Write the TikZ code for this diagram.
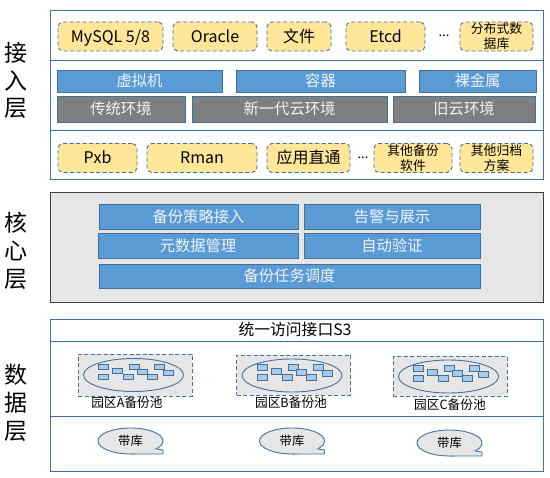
\documentclass[tikz,border=0pt]{standalone}
\usepackage{fontspec}
\setmainfont{Noto Sans CJK SC}
\usepackage[dvipsnames,svgnames,x11names]{xcolor}
\definecolor{primary}{HTML}{41719C}
\definecolor{softblue}{HTML}{5B9BD5}
\definecolor{envgray}{HTML}{7F7F7F}
\definecolor{srcyellow}{HTML}{FFE699}
\definecolor{coregray}{HTML}{E7E6E6}
\definecolor{diskblue}{HTML}{A9CBE8}
\usetikzlibrary{shapes.geometric, positioning}

\newcommand{\poolset}[3]{% name, ellipse x, ellipse y
  \node[poolell] (#1) at (#2,#3) {};
  \begin{scope}[shift={(#2,#3)}]
    \foreach \dx/\dy [count=\i] in {-30/-8,-16/-4,1/-8,9/-3,26/-8,35/-2,-30/2,-5/2,19/2}
      \node[disk] (#1d\i) at (\dx,\dy) {};
  \end{scope}
}
\newcommand{\tapeset}[3]{% name, x, y
  \node[tapelib] (#1) at (#2,#3) {带库};
  \coordinate (#1c) at (#2+32.5,#3+13);
  \coordinate (#1u) at (#2+32.5,#3+9);
  \fill[coregray] (#1.-90) -- (#1c) -- (#1u) -- (#1.-17) -- cycle;
  \draw[primary, line width=0.9pt] (#1.-90) -- (#1c) -- (#1u) -- (#1.-17);
}

\begin{document}
\begin{tikzpicture}[x=1pt, y=-1pt, inner sep=0pt, outer sep=0pt]
  \tikzstyle{layer}=[rectangle, draw=primary, line width=0.9pt, minimum width=493pt]
  \tikzstyle{srcbox}=[rectangle, rounded corners=5pt, draw=primary, dash pattern=on 4pt off 2.5pt,
    line width=0.9pt, fill=srcyellow, minimum height=29pt, align=center, text height=16pt, text depth=4pt,
    font=\fontsize{16}{18}\selectfont, text=black]
  \tikzstyle{srcsmall}=[srcbox, text height=, text depth=, font=\fontsize{12.8}{15}\selectfont]
  \tikzstyle{softbox}=[rectangle, draw=primary, line width=0.9pt, fill=softblue,
    font=\fontsize{15.3}{17}\selectfont, text=white!90!softblue]
  \tikzstyle{envbox}=[rectangle, draw=primary, line width=0.9pt, fill=envgray, minimum height=26pt,
    font=\fontsize{15.3}{17}\selectfont, text=white!90!envgray]
  \tikzstyle{sidetext}=[font=\fontsize{23}{23}\selectfont, text=black]
  \tikzstyle{poolbox}=[rectangle, draw=primary, dash pattern=on 4pt off 2.5pt, line width=0.9pt,
    fill=coregray, minimum width=114pt]
  \tikzstyle{poolell}=[ellipse, draw=primary, line width=0.9pt, fill=coregray,
    minimum width=100pt, minimum height=33pt]
  \tikzstyle{disk}=[cylinder, shape border rotate=90, aspect=3, draw=primary, line width=0.7pt,
    cylinder uses custom fill, cylinder body fill=diskblue, cylinder end fill=white,
    minimum width=10pt, minimum height=5.5pt]
  \tikzstyle{poollabel}=[font=\fontsize{12.7}{15}\selectfont, text=black]
  \tikzstyle{tapelib}=[ellipse, draw=primary, line width=0.9pt, fill=coregray,
    minimum width=65pt, minimum height=26pt, font=\fontsize{12.3}{14}\selectfont, text=black]
  \useasboundingbox (0,0) rectangle (550,478);

  % access layer
  \node[layer, minimum height=50pt] (top1) at (296.5,35) {};
  \node[layer, minimum height=70pt] (top2) at (296.5,95) {};
  \node[layer, minimum height=49pt] (top3) at (296.5,154.5) {};
  \node[sidetext] (s1) at (16,53) {接};
  \node[sidetext] (s2) at (16,81) {入};
  \node[sidetext] (s3) at (16,108) {层};

  \node[srcbox, minimum width=105pt] (mysql) at (110.5,36.5) {MySQL 5/8};
  \node[srcbox, minimum width=84pt] (oracle) at (215,36.5) {Oracle};
  \node[srcbox, minimum width=64pt] (file) at (299,36.5) {文件};
  \node[srcbox, minimum width=79pt] (etcd) at (385.5,36.5) {Etcd};
  \node[font=\fontsize{13}{15}\selectfont] (dots1) at (444,36) {...};
  \node[srcsmall, minimum width=73pt] (dist) at (496.5,36.5) {分布式数\\据库};

  \node[softbox, minimum width=165pt, minimum height=22pt] (vm) at (139.5,81) {虚拟机};
  \node[softbox, minimum width=169pt, minimum height=22pt] (ctn) at (320.5,81) {容器};
  \node[softbox, minimum width=117pt, minimum height=22pt] (bare) at (477.5,81) {裸金属};

  \node[envbox, minimum width=128pt] (env1) at (121,109) {传统环境};
  \node[envbox, minimum width=195pt] (env2) at (289.5,109) {新一代云环境};
  \node[envbox, minimum width=142pt] (env3) at (464,109) {旧云环境};

  \node[srcbox, minimum width=79pt] (pxb) at (97.5,158) {Pxb};
  \node[srcbox, minimum width=110pt] (rman) at (202,158) {Rman};
  \node[srcbox, minimum width=83pt] (app) at (308.5,158) {应用直通};
  \node[font=\fontsize{13}{15}\selectfont] (dots2) at (363,158) {...};
  \node[srcsmall, minimum width=78pt] (obak) at (413,158) {其他备份\\软件};
  \node[srcsmall, minimum width=73pt] (oarc) at (496.5,158) {其他归档\\方案};

  % core layer
  \node[layer, draw=black!75, fill=coregray, minimum height=110pt] (core) at (296.5,247) {};
  \node[sidetext] (k1) at (16,223) {核};
  \node[sidetext] (k2) at (16,251) {心};
  \node[sidetext] (k3) at (16,279) {层};

  \node[softbox, minimum width=199pt, minimum height=25pt] (policy) at (198.5,216.5) {备份策略接入};
  \node[softbox, minimum width=176pt, minimum height=25pt] (alarm) at (392,216.5) {告警与展示};
  \node[softbox, minimum width=200pt, minimum height=25pt] (meta) at (198,245.5) {元数据管理};
  \node[softbox, minimum width=176pt, minimum height=25pt] (check) at (392,245.5) {自动验证};
  \node[softbox, minimum width=381pt, minimum height=24pt] (sched) at (289.5,276) {备份任务调度};

  % data layer
  \node[layer, minimum height=22pt] (s3api) at (296.5,330) {};
  \node[font=\fontsize{15.8}{17}\selectfont, text=black] (s3text) at (295,329.5) {统一访问接口S3};
  \node[layer, minimum height=75pt] (mid) at (296.5,378.5) {};
  \node[layer, minimum height=55pt] (low) at (296.5,443.5) {};
  \node[sidetext] (d1) at (16,375) {数};
  \node[sidetext] (d2) at (16,403) {据};
  \node[sidetext] (d3) at (16,431) {层};

  \node[poolbox, minimum height=42pt] (boxa) at (135,375) {};
  \node[poolbox, minimum height=40pt] (boxb) at (293.5,375) {};
  \node[poolbox, minimum height=40pt] (boxc) at (450,376.5) {};
  \poolset{pa}{133.5}{375}
  \poolset{pb}{292}{375.5}
  \poolset{pc}{448.5}{376.5}
  \node[poollabel] (la) at (127,403) {园区A备份池};
  \node[poollabel] (lb) at (291,403) {园区B备份池};
  \node[poollabel] (lc) at (450,405) {园区C备份池};

  \tapeset{ta}{130.5}{441}
  \tapeset{tb}{292}{441}
  \tapeset{tc}{449.5}{443}
\end{tikzpicture}
\end{document}
